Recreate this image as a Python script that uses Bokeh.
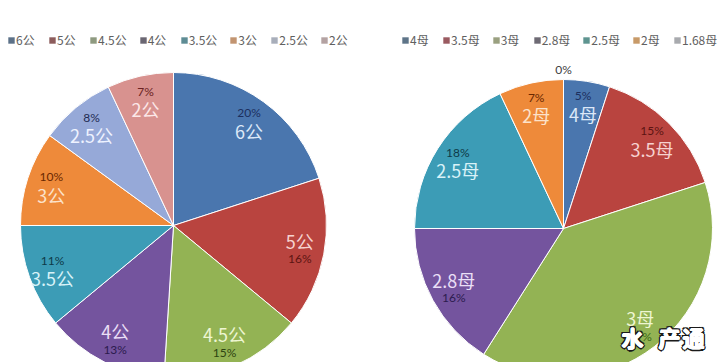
import numpy as np
from bokeh.plotting import figure
from bokeh.models import ColumnDataSource, Range1d, Legend, LegendItem
from bokeh.core.properties import value
from bokeh.embed import file_html
from bokeh.resources import INLINE

# ---- data ----
left_cats = ["6公", "5公", "4.5公", "4公", "3.5公", "3公", "2.5公", "2公"]
left_vals = [20, 16, 15, 13, 11, 10, 8, 7]

right_cats = ["4母", "3.5母", "3母", "2.8母", "2.5母", "2母", "1.68母"]
right_vals = [5, 15, 39, 16, 18, 7, 0]

# ---- styles ----
left_fill = ["#4A76AE", "#B9443F", "#93B354", "#74549E", "#3C9CB6", "#EE8A3A", "#96A9D8", "#D8928F"]
left_pct_col = ["#1C2F5E", "#5C1412", "#2E4410", "#2C1B4E", "#0E3A48", "#6A2800", "#1E2A52", "#6A2222"]
left_name_col = ["#DCE8F8", "#F6D2D0", "#EEF6D2", "#EADFF6", "#D8F2F8", "#FCE2CA", "#EEF2FF", "#FCE8E8"]
left_leg_col = ["#5C7188", "#8C5C5C", "#8E9A80", "#6A6672", "#5E8C94", "#C29470", "#A8AEBA", "#B4A2A2"]

right_fill = ["#4A76AE", "#B9443F", "#93B354", "#74549E", "#3C9CB6", "#EE8A3A", "#A5A5A5"]
right_pct_col = ["#1C2F5E", "#5C1412", "#3C6A14", "#2C1B4E", "#0E3A48", "#6A2800", "#404040"]
right_name_col = ["#DCE8F8", "#F6D2D0", "#EEF6D2", "#EADFF6", "#D8F2F8", "#FCE2CA", "#F2F2F2"]
right_leg_col = ["#5E7488", "#9A5A60", "#9AA080", "#6E6A74", "#5E9490", "#C89A68", "#A8AAAE"]

W, H = 720, 362
p = figure(width=W, height=H, output_backend="svg", toolbar_location=None,
           x_range=Range1d(0, W), y_range=Range1d(0, H), min_border=0)
p.axis.visible = False
p.grid.visible = False
p.outline_line_color = None
p.background_fill_color = "white"
p.border_fill_color = "white"

PCT_FONT = value("Lato")
CJK_NAME = "Noto Sans CJK SC"
CJK_FONT = value(CJK_NAME)


def pie(cx, cy, R, cats, vals, fills, pct_cols, name_cols, leg_cols, leg_loc):
    v = np.array(vals, dtype=float)
    frac = v / v.sum()
    c1 = np.cumsum(frac)
    c0 = c1 - frac
    start = np.pi / 2 - 2 * np.pi * c1
    end = np.pi / 2 - 2 * np.pi * c0
    keep = v > 0
    src = ColumnDataSource(dict(start=start[keep], end=end[keep],
                                fill=[f for f, k in zip(fills, keep) if k]))
    p.wedge(x=cx, y=cy, radius=R, start_angle="start", end_angle="end",
            direction="anticlock", fill_color="fill", line_color="white",
            line_width=1, source=src)

    mid = 2 * np.pi * (c0 + c1) / 2  # clockwise from top
    deg = np.degrees(mid)
    r = np.where(keep, 0.84 * R, 1.07 * R)
    bx = cx + r * np.sin(mid)
    by = cy + r * np.cos(mid)
    name_first = (deg > 90) & (deg < 245)
    pct_y = np.where(keep, np.where(name_first, by - 9, by + 9), by)
    name_y = np.where(name_first, by + 9, by - 9)
    pct_txt = ["%d%%" % x for x in vals]

    psrc = ColumnDataSource(dict(x=bx, y=pct_y, t=pct_txt, c=pct_cols))
    p.text(x="x", y="y", text="t", text_color="c", source=psrc,
           text_font=PCT_FONT, text_font_size=value("12px"),
           text_align="center", text_baseline="middle")
    nsrc = ColumnDataSource(dict(x=bx[keep], y=name_y[keep],
                                 t=[c for c, k in zip(cats, keep) if k],
                                 c=[c for c, k in zip(name_cols, keep) if k]))
    p.text(x="x", y="y", text="t", text_color="c", source=nsrc,
           text_font=CJK_FONT, text_font_size=value("18px"),
           text_align="center", text_baseline="middle")

    items = []
    for cat, col in zip(cats, leg_cols):
        rr = p.quad(left=[-60], right=[-50], top=[-50], bottom=[-60],
                    fill_color=col, line_color=None)
        items.append(LegendItem(label=cat, renderers=[rr]))
    leg = Legend(items=items, orientation="horizontal", location=leg_loc,
                 glyph_width=8, glyph_height=8, label_standoff=1, spacing=12,
                 padding=0, margin=0, border_line_color=None,
                 background_fill_alpha=0, label_text_font=CJK_NAME,
                 label_text_font_size="12px", label_text_color="#606060",
                 label_height=12, label_text_baseline="middle")
    p.add_layout(leg, "center")


pie(173, H - 225, 153, left_cats, left_vals, left_fill, left_pct_col,
    left_name_col, left_leg_col, (7, H - 48))
pie(563, H - 228, 149, right_cats, right_vals, right_fill, right_pct_col,
    right_name_col, right_leg_col, (401, H - 48))

# watermark: thick white characters with a thin dark rim
wm = ColumnDataSource(dict(x=[632, 669, 693], y=[26, 26, 26], t=["水", "产", "通"]))
dark_offsets = [(-2, 0), (2, 0), (0, -2), (0, 2), (-1.5, -1.5), (1.5, 1.5),
                (-1.5, 1.5), (1.5, -1.5)]
white_offsets = [(0, 0), (-0.8, 0), (0.8, 0), (0, -0.8), (0, 0.8)]
for dx, dy in dark_offsets:
    p.text(x="x", y="y", text="t", source=wm, text_color="#1A1A1A",
           x_offset=dx, y_offset=dy, text_font=CJK_FONT,
           text_font_size=value("22px"), text_font_style="bold",
           text_align="center", text_baseline="middle")
for dx, dy in white_offsets:
    p.text(x="x", y="y", text="t", source=wm, text_color="#FFFFFF",
           x_offset=dx, y_offset=dy, text_font=CJK_FONT,
           text_font_size=value("22px"), text_font_style="bold",
           text_align="center", text_baseline="middle")

open("out.html", "w").write(file_html(p, INLINE))
